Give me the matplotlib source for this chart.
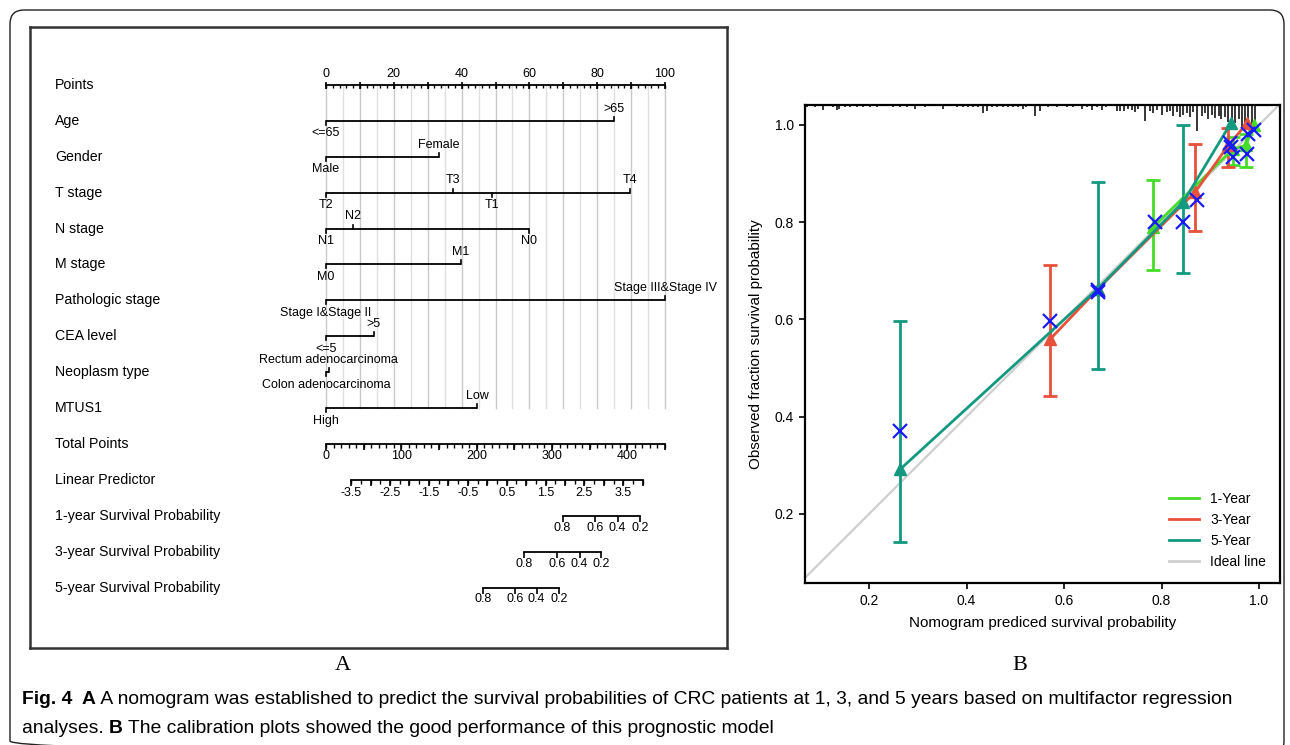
import numpy as np
import matplotlib.pyplot as plt
from matplotlib.patches import FancyBboxPatch
from matplotlib.lines import Line2D

plt.rcParams['font.family'] = ['Liberation Sans', 'DejaVu Sans']

W, H = 1290, 745

# ---------------- A: nomogram data ----------------
row_labels = ["Points", "Age", "Gender", "T stage", "N stage", "M stage",
              "Pathologic stage", "CEA level", "Neoplasm type", "MTUS1",
              "Total Points", "Linear Predictor", "1-year Survival Probability",
              "3-year Survival Probability", "5-year Survival Probability"]

points_labels = [0, 20, 40, 60, 80, 100]

age_levels = ["<=65", ">65"]
age_pts = [0, 84.9]
gender_levels = ["Male", "Female"]
gender_pts = [0, 33.3]
t_levels = ["T2", "T3", "T1", "T4"]
t_pts = [0, 37.5, 49.0, 89.6]
n_levels = ["N1", "N2", "N0"]
n_pts = [0, 7.9, 60.0]
m_levels = ["M0", "M1"]
m_pts = [0, 39.7]
path_levels = ["Stage I&Stage II", "Stage III&Stage IV"]
path_pts = [0, 100]
cea_levels = ["<=5", ">5"]
cea_pts = [0, 14.1]
neo_levels = ["Colon adenocarcinoma", "Rectum adenocarcinoma"]
neo_pts = [0, 0.8]
mtus1_levels = ["High", "Low"]
mtus1_pts = [0, 44.6]

total_labels = [0, 100, 200, 300, 400]
total_max = 450

lp_labels = [-3.5, -2.5, -1.5, -0.5, 0.5, 1.5, 2.5, 3.5]
lp_min, lp_max = -3.5, 4.0
lp_at_total0 = -4.148
lp_per_total = 0.01938

surv_labels = [0.8, 0.6, 0.4, 0.2]
surv1_total = [314, 357, 387, 416.6]
surv3_total = [263, 306.5, 336.6, 365]
surv5_total = [208, 250.6, 279.5, 309.5]

# ---------------- B: calibration data ----------------
pred1 = [0.783, 0.946, 0.973, 0.990]
obs1 = [0.790, 0.950, 0.958, 1.000]
lo1 = [0.701, 0.918, 0.913, np.nan]
hi1 = [0.886, 0.975, 0.982, np.nan]

pred3 = [0.572, 0.669, 0.869, 0.937, 0.975]
obs3 = [0.560, 0.662, 0.862, 0.958, 1.003]
lo3 = [0.443, np.nan, 0.782, 0.913, np.nan]
hi3 = [0.712, np.nan, 0.961, 0.994, np.nan]

pred5 = [0.264, 0.669, 0.845, 0.943]
obs5 = [0.292, 0.663, 0.842, 1.005]
lo5 = [0.143, 0.498, 0.695, np.nan]
hi5 = [0.596, 0.882, 1.000, np.nan]

bc1_x = [0.786, 0.946, 0.975, 0.990]
bc1_y = [0.800, 0.935, 0.940, 0.990]
bc3_x = [0.572, 0.669, 0.872, 0.940, 0.978]
bc3_y = [0.596, 0.660, 0.846, 0.962, 0.982]
bc5_x = [0.264, 0.669, 0.845, 0.943]
bc5_y = [0.371, 0.656, 0.800, 0.955]

rug_x = [0.072, 0.089, 0.106, 0.126, 0.134, 0.139, 0.151, 0.161, 0.175, 0.188,
         0.202, 0.216, 0.249, 0.264, 0.277, 0.294, 0.315, 0.352, 0.380, 0.393,
         0.403, 0.413, 0.424, 0.433, 0.441, 0.452, 0.462, 0.475, 0.485, 0.496,
         0.506, 0.515, 0.523, 0.541, 0.551, 0.567, 0.585, 0.606, 0.619, 0.636,
         0.647, 0.657, 0.667, 0.677, 0.686, 0.708, 0.715, 0.722, 0.731, 0.739,
         0.746, 0.752, 0.766, 0.776, 0.783, 0.791, 0.800, 0.811, 0.817, 0.824,
         0.831, 0.838, 0.845, 0.852, 0.858, 0.865, 0.873, 0.882, 0.889, 0.896,
         0.903, 0.910, 0.917, 0.923, 0.930, 0.937, 0.944, 0.951, 0.958, 0.965,
         0.971, 0.978, 0.985, 0.992]
rug_n = [2, 2, 4, 2, 4, 3, 2, 2, 2, 2,
         2, 2, 2, 2, 2, 3, 2, 3, 2, 2,
         2, 2, 2, 7, 5, 2, 2, 2, 2, 2,
         2, 3, 2, 9, 5, 2, 2, 2, 2, 3,
         2, 4, 2, 4, 2, 5, 5, 5, 3, 4,
         6, 3, 13, 5, 7, 4, 8, 6, 5, 9,
         6, 10, 8, 7, 10, 6, 22, 9, 7, 12,
         8, 11, 9, 12, 10, 14, 16, 15, 12, 18,
         16, 20, 17, 19]

c1, c3, c5 = '#46dc2a', '#e8513a', '#13997f'
c_ideal = '#cfcfcf'
c_bc = '#1a1aff'

fig = plt.figure(figsize=(W / 100, H / 100), dpi=100)

# overlay in pixel coordinates for border and caption
ov = fig.add_axes([0, 0, 1, 1])
ov.set_xlim(0, W)
ov.set_ylim(H, 0)
ov.axis('off')
ov.add_patch(FancyBboxPatch((10, 10), 1274, 745, boxstyle='round,pad=0,rounding_size=14',
                            fill=False, ec='#222222', lw=1.0))

# ---------------- panel A ----------------
axA = fig.add_axes([30 / W, 1 - 648 / H, 697 / W, 621 / H])
x0px, pxpt = 326, 3.39
row0, rstep = 85, 35.9
axA.set_xlim((30 - x0px) / pxpt, (727 - x0px) / pxpt)
axA.set_ylim((648 - row0) / rstep, (27 - row0) / rstep)
axA.set_xticks([])
axA.set_yticks([])
for s in axA.spines.values():
    s.set_linewidth(1.8)
    s.set_color('#333333')
tk = 1 / rstep
lab_x = (55 - x0px) / pxpt

for g in range(0, 101, 5):
    axA.plot([g, g], [0, 9], color='#c9c9c9' if g % 10 == 0 else '#e0e0e0', lw=1, zorder=0)

for r, name in enumerate(row_labels):
    axA.text(lab_x, r, name, ha='left', va='center', fontsize=10.2)

# points scale
axA.plot([0, 100], [0, 0], color='k', lw=1.3)
axA.vlines(range(0, 101, 2), 0, 3 * tk, color='k', lw=1)
axA.vlines(range(0, 101, 10), -3 * tk, 4 * tk, color='k', lw=1.2)
for v in points_labels:
    axA.text(v, -0.3, str(v), ha='center', va='center', fontsize=9)

factors = [(age_levels, age_pts), (gender_levels, gender_pts), (t_levels, t_pts),
           (n_levels, n_pts), (m_levels, m_pts), (path_levels, path_pts),
           (cea_levels, cea_pts), (neo_levels, neo_pts), (mtus1_levels, mtus1_pts)]
for r, (levels, pts) in enumerate(factors, start=1):
    axA.plot([min(pts), max(pts)], [r, r], color='k', lw=1.3, solid_capstyle='butt')
    order = np.argsort(pts)
    for k, i in enumerate(order):
        above = k % 2 == 1
        d = -4 * tk if above else 4 * tk
        axA.plot([pts[i], pts[i]], [r, r + d], color='k', lw=1.2)
        axA.text(pts[i], r - 0.34 if above else r + 0.35, levels[i],
                 ha='center', va='center', fontsize=9)

# total points
tp = lambda v: np.asarray(v, dtype=float) * 100 / total_max
axA.plot([0, 100], [10, 10], color='k', lw=1.3)
axA.vlines(tp(range(0, total_max + 1, 10)), 10, 10 + 4 * tk, color='k', lw=1)
axA.vlines(tp(range(0, total_max + 1, 50)), 10, 10 + 6 * tk, color='k', lw=1.2)
for v in total_labels:
    axA.text(tp(v), 10.33, str(v), ha='center', va='center', fontsize=9)

# linear predictor
lp = lambda v: tp((np.asarray(v, dtype=float) - lp_at_total0) / lp_per_total)
axA.plot(lp([lp_min, lp_max]), [11, 11], color='k', lw=1.3)
axA.vlines(lp(np.arange(lp_min, lp_max + 0.01, 0.25)), 11, 11 + 4 * tk, color='k', lw=1)
axA.vlines(lp(np.arange(lp_min, lp_max + 0.01, 0.5)), 11, 11 + 6 * tk, color='k', lw=1.2)
for v in lp_labels:
    axA.text(lp(v), 11.36, f"{v:g}", ha='center', va='center', fontsize=9)

# survival scales
for r, pos in zip([12, 13, 14], [surv1_total, surv3_total, surv5_total]):
    xs = tp(pos)
    axA.plot([xs.min(), xs.max()], [r, r], color='k', lw=1.3)
    axA.vlines(xs, r, r + 6 * tk, color='k', lw=1.2)
    for x, v in zip(xs, surv_labels):
        axA.text(x, r + 0.33, f"{v:g}", ha='center', va='center', fontsize=9)

# ---------------- panel B ----------------
axB = fig.add_axes([805 / W, 1 - 583 / H, 475 / W, 478 / H])
axB.set_xlim(0.0687, 1.043)
axB.set_ylim(0.058, 1.041)
axB.plot([0, 1.1], [0, 1.1], color=c_ideal, lw=1.6, zorder=1)

ytop = 1.041
pxy = 1.2 / 486
axB.vlines(rug_x, ytop - np.asarray(rug_n) * pxy, ytop, color='k', lw=1.1, zorder=2)

for px_, ob, lo, hi, col in [(pred1, obs1, lo1, hi1, c1),
                             (pred3, obs3, lo3, hi3, c3),
                             (pred5, obs5, lo5, hi5, c5)]:
    px_, ob, lo, hi = map(np.asarray, (px_, ob, lo, hi))
    ok = ~np.isnan(lo)
    axB.errorbar(px_[ok], ob[ok], yerr=[ob[ok] - lo[ok], hi[ok] - ob[ok]], fmt='none',
                 ecolor=col, elinewidth=2, capsize=5, capthick=2, zorder=3)
    axB.plot(px_, ob, color=col, lw=2, marker='^', ms=9, zorder=4)

for bx, by in [(bc1_x, bc1_y), (bc3_x, bc3_y), (bc5_x, bc5_y)]:
    axB.plot(bx, by, ls='none', marker='x', ms=10, mew=1.6, color=c_bc, zorder=5)

axB.set_xticks([0.2, 0.4, 0.6, 0.8, 1.0])
axB.set_yticks([0.2, 0.4, 0.6, 0.8, 1.0])
axB.set_xticklabels(["0.2", "0.4", "0.6", "0.8", "1.0"])
axB.set_yticklabels(["0.2", "0.4", "0.6", "0.8", "1.0"])
axB.tick_params(labelsize=10, length=4, width=1.2, pad=4)
for s in axB.spines.values():
    s.set_linewidth(1.6)
axB.set_xlabel("Nomogram prediced survival probability", fontsize=11, labelpad=6)
axB.set_ylabel("Observed fraction survival probability", fontsize=11, labelpad=8)

handles = [Line2D([], [], color=c, lw=2) for c in (c1, c3, c5, c_ideal)]
axB.legend(handles, ["1-Year", "3-Year", "5-Year", "Ideal line"], loc='lower right',
           frameon=False, fontsize=10, handlelength=2.2, labelspacing=0.5,
           borderaxespad=0.6)

# ---------------- labels and caption ----------------
ov.text(343, 665, "A", ha='center', va='center', fontsize=16,
        family=['Liberation Serif', 'DejaVu Serif'])
ov.text(1020, 665, "B", ha='center', va='center', fontsize=16,
        family=['Liberation Serif', 'DejaVu Serif'])


def caption_line(x, y, runs):
    prev = ov.text(x, y, runs[0][0], ha='left', va='bottom', fontsize=13.9,
                   fontweight=runs[0][1])
    for txt, wt in runs[1:]:
        prev = ov.annotate(txt, xy=(1, 0), xycoords=prev, ha='left', va='bottom',
                           fontsize=13.9, fontweight=wt)


caption_line(22, 708, [("Fig. 4", 'bold'), ("  A", 'bold'),
                       (" A nomogram was established to predict the survival probabilities of CRC "
                        "patients at 1, 3, and 5 years based on multifactor regression", 'normal')])
caption_line(22, 737, [("analyses. ", 'normal'), ("B", 'bold'),
                       (" The calibration plots showed the good performance of this prognostic model",
                        'normal')])

fig.savefig("out.png", dpi=100)
